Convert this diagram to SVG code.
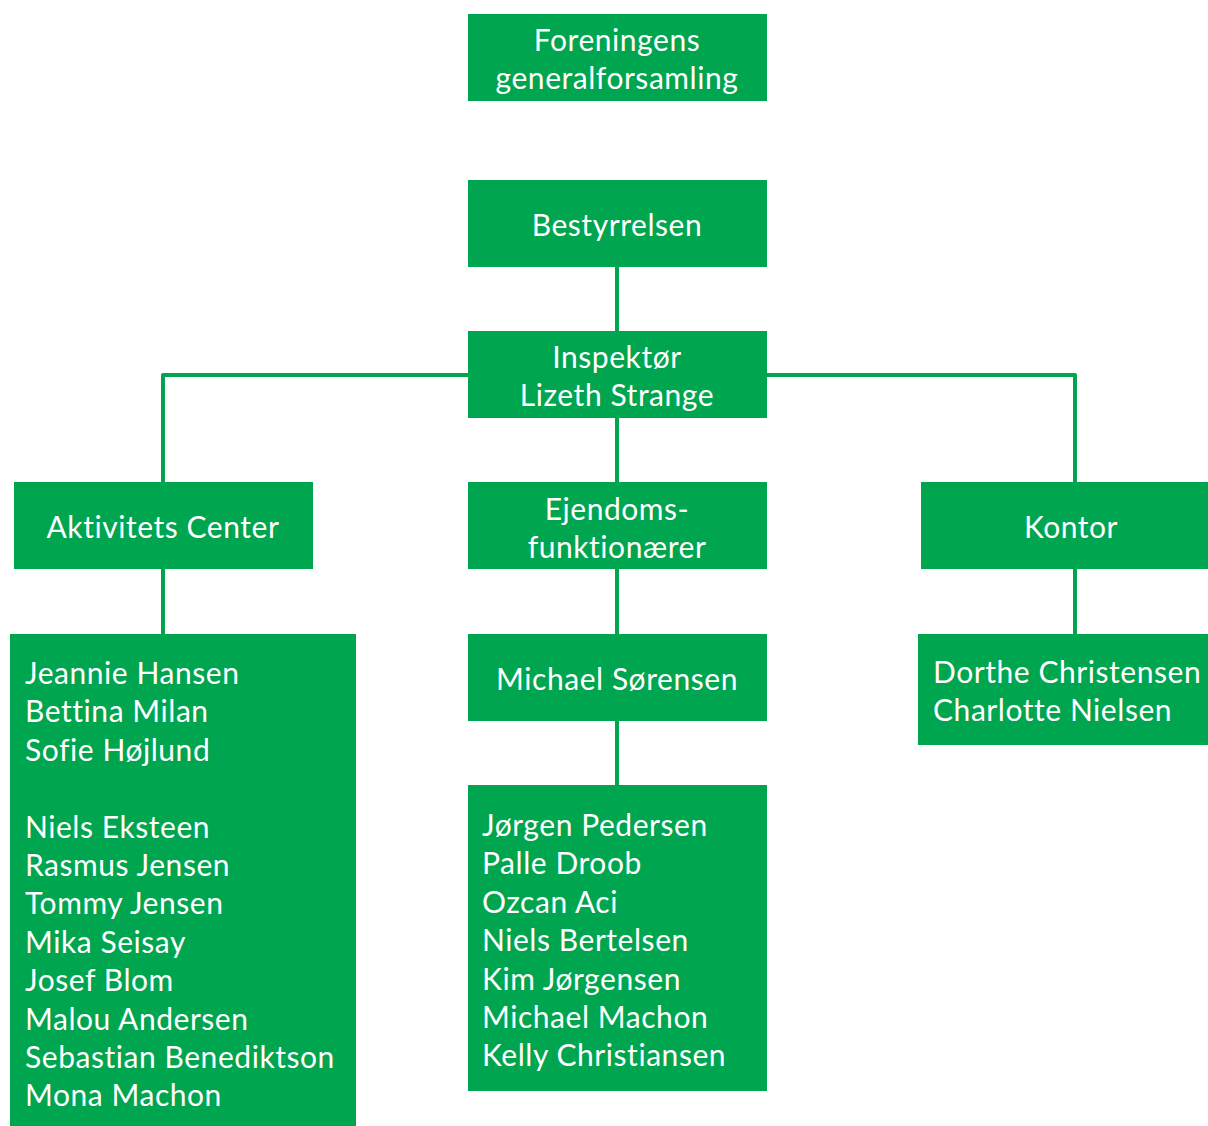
<svg xmlns="http://www.w3.org/2000/svg" width="1208" height="1126" viewBox="0 0 1208 1126">
<style>
.box{fill:#00a54f}
.t{font-family:Lato,"Liberation Sans",sans-serif;font-size:30px;fill:#ffffff;letter-spacing:0.55px}
.c{text-anchor:middle}
.ln{stroke:#00a54f;stroke-width:4;fill:none;stroke-linejoin:round}
</style>
<rect width="1208" height="1126" fill="#ffffff"/>
<g id="connectors">
<path class="ln" d="M617,267V331M617,418V482M617,569V634M617,721V785"/>
<path class="ln" d="M163,482V375H1075V482"/>
<path class="ln" d="M163,569V634M1075,569V634"/>
</g>
<g id="n-generalforsamling">
<rect class="box" x="468" y="14" width="299" height="87"/>
<text class="t c" x="617" y="51">Foreningens</text>
<text class="t c" x="617" y="89">generalforsamling</text>
</g>
<g id="n-bestyrrelsen">
<rect class="box" x="468" y="180" width="299" height="87"/>
<text class="t c" x="617" y="236">Bestyrrelsen</text>
</g>
<g id="n-inspektor">
<rect class="box" x="468" y="331" width="299" height="87"/>
<text class="t c" x="617" y="368">Inspektør</text>
<text class="t c" x="617" y="406">Lizeth Strange</text>
</g>
<g id="n-aktivitets">
<rect class="box" x="14" y="482" width="299" height="87"/>
<text class="t c" x="163" y="538">Aktivitets Center</text>
</g>
<g id="n-ejendoms">
<rect class="box" x="468" y="482" width="299" height="87"/>
<text class="t c" x="617" y="520">Ejendoms-</text>
<text class="t c" x="617" y="558">funktionærer</text>
</g>
<g id="n-kontor">
<rect class="box" x="921" y="482" width="287" height="87"/>
<text class="t c" x="1071" y="538">Kontor</text>
</g>
<g id="n-michael">
<rect class="box" x="468" y="634" width="299" height="87"/>
<text class="t c" x="617" y="690">Michael Sørensen</text>
</g>
<g id="n-aktivitets-list">
<rect class="box" x="10" y="634" width="346" height="492"/>
<text class="t" x="25" y="684">Jeannie Hansen</text>
<text class="t" x="25" y="722.4">Bettina Milan</text>
<text class="t" x="25" y="760.8">Sofie Højlund</text>
<text class="t" x="25" y="837.6">Niels Eksteen</text>
<text class="t" x="25" y="876">Rasmus Jensen</text>
<text class="t" x="25" y="914.4">Tommy Jensen</text>
<text class="t" x="25" y="952.8">Mika Seisay</text>
<text class="t" x="25" y="991.2">Josef Blom</text>
<text class="t" x="25" y="1029.6">Malou Andersen</text>
<text class="t" x="25" y="1068">Sebastian Benediktson</text>
<text class="t" x="25" y="1106.4">Mona Machon</text>
</g>
<g id="n-ejendoms-list">
<rect class="box" x="468" y="785" width="299" height="306"/>
<text class="t" x="482" y="836">Jørgen Pedersen</text>
<text class="t" x="482" y="874.4">Palle Droob</text>
<text class="t" x="482" y="912.8">Ozcan Aci</text>
<text class="t" x="482" y="951.2">Niels Bertelsen</text>
<text class="t" x="482" y="989.6">Kim Jørgensen</text>
<text class="t" x="482" y="1028">Michael Machon</text>
<text class="t" x="482" y="1066.4">Kelly Christiansen</text>
</g>
<g id="n-kontor-list">
<rect class="box" x="918" y="634" width="290" height="111"/>
<text class="t" x="933" y="683">Dorthe Christensen</text>
<text class="t" x="933" y="721">Charlotte Nielsen</text>
</g>
</svg>
